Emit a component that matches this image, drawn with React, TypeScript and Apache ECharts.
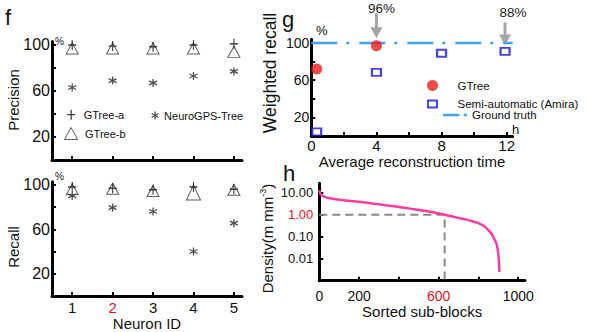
import React, { useEffect, useRef } from "react";
import * as echarts from "echarts";

// ---------- data ----------
const neuronIds = [1, 2, 3, 4, 5];
const precisionGTreeA = [100, 99, 98.5, 100, 101];
const precisionGTreeB = [97, 97, 97, 97, 94];
const precisionNeuroGPS = [63, 69, 67, 73, 77];
const recallGTreeA = [98, 97, 95.5, 98, 96];
const recallGTreeB = [96, 96.5, 94.5, 93, 95.5];
const recallNeuroGPS = [90, 79.5, 76, 40, 65.5];

const timeGTree = [0.33, 4];
const weightedRecallGTree = [72, 97];
const timeAmira = [0.33, 4, 8, 11.9];
const weightedRecallAmira = [4.5, 68.5, 89, 91];
const groundTruth = 100;
const arrowLabels = ["96%", "88%"];

const sortedBlocks = [0, 3, 8, 15, 26, 40, 60, 100, 150, 200, 250, 300, 350, 400, 450, 500, 550, 600, 630, 660, 700, 740, 780, 800, 830, 850, 865, 877, 886, 893, 898, 902, 904, 905];
const densityValues = [13, 10, 8.2, 7.2, 6.6, 6.0, 5.5, 4.8, 4.3, 3.9, 3.4, 3.0, 2.6, 2.25, 1.95, 1.65, 1.4, 1.15, 1.0, 0.87, 0.72, 0.6, 0.47, 0.42, 0.3, 0.2, 0.14, 0.085, 0.06, 0.04, 0.022, 0.0093, 0.005, 0.0025];
const thresholdDensity = 1;
const thresholdBlock = 630;

const fTickValues = [20, 40, 60, 80, 100];
const fLabelValues = [20, 60, 100];
const gXTicks = [2, 4, 6, 8, 10, 12];
const gXLabels = [0, 4, 8, 12];
const hXTicks = [200, 400, 600, 800, 1000];
const hXLabels = [0, 200, 600, 1000];

// ---------- styles ----------
const FONT = "Liberation Sans, Arial, sans-serif";
const PLUS = "path://M4,0L4,10M0,5L8,5";
const STAR = "path://M4,0L4,8M0.54,2L7.46,6M0.54,6L7.46,2";
const TRI_ICON = "path://M6,0L12,11L0,11Z";
const RECT_ICON = "path://M0,0L9,0L9,7L0,7Z";
const DASHDOT_ICON = "path://M0,0L15,0L15,2.5L0,2.5ZM19,0L22,0L22,2.5L19,2.5Z";

const axisLine = { show: true, onZero: false, lineStyle: { color: "#000", width: 3 } };
const tick = (vals: number[]) => ({ show: true, inside: true, length: 4, customValues: vals, lineStyle: { color: "#000", width: 2 } });

const zip = (xs: number[], ys: number[]) => xs.map((x, i) => [x, ys[i]]);

export default function App() {
  const ref = useRef<HTMLDivElement>(null);
  useEffect(() => {
    const chart = echarts.init(ref.current!, null, { renderer: "svg" });
    const triStyle = { color: "transparent", borderColor: "#333", borderWidth: 1 };
    const plusStyle = { color: "transparent", borderColor: "#111", borderWidth: 1.3 };
    const starStyle = { color: "transparent", borderColor: "#222", borderWidth: 1.3 };
    const labelStyle = (size: number) => ({ fontSize: size, fontFamily: FONT, color: "#111" });

    const fSeries = (grid: number, a: number[], b: number[], c: number[]) => [
      {
        type: "scatter", name: "GTree-b", xAxisIndex: grid, yAxisIndex: grid,
        symbol: "triangle", symbolSize: [12, 11], itemStyle: triStyle,
        data: zip(neuronIds, b).map((d, i) => (grid === 1 && i === 3 ? { value: d, symbolSize: [14, 15] } : d)),
      },
      { type: "scatter", name: "GTree-a", xAxisIndex: grid, yAxisIndex: grid, symbol: PLUS, symbolSize: [8, 10], itemStyle: plusStyle, data: zip(neuronIds, a) },
      { type: "scatter", name: "NeuroGPS-Tree", xAxisIndex: grid, yAxisIndex: grid, symbol: STAR, symbolSize: 8, itemStyle: starStyle, data: zip(neuronIds, c) },
    ];

    const option: any = {
      animation: false,
      backgroundColor: "#fff",
      textStyle: { fontFamily: FONT },
      grid: [
        { left: 52, top: 41.5, width: 190, height: 118.5 },
        { left: 52, top: 181.7, width: 190, height: 114.3 },
        { left: 311.3, top: 39.3, width: 201.4, height: 96.7 },
        { left: 319.3, top: 183.3, width: 205.7, height: 97.4 },
      ],
      xAxis: [
        { gridIndex: 0, type: "value", min: 0.5, max: 5.2, axisLine, axisTick: tick(neuronIds), axisLabel: { show: false }, splitLine: { show: false } },
        {
          gridIndex: 1, type: "value", min: 0.5, max: 5.2, axisLine, axisTick: tick(neuronIds), splitLine: { show: false },
          axisLabel: { customValues: neuronIds, margin: 4, ...labelStyle(15), formatter: (v: number) => (v === 2 ? "{r|2}" : String(v)), rich: { r: { color: "#e8141c", fontSize: 15, fontFamily: FONT } } },
          name: "Neuron ID", nameLocation: "middle", nameGap: 18, nameTextStyle: labelStyle(15),
        },
        {
          gridIndex: 2, type: "value", min: 0, max: 12.37, axisLine, axisTick: tick(gXTicks), splitLine: { show: false },
          axisLabel: { customValues: gXLabels, margin: 2, ...labelStyle(15) },
          name: "Average reconstruction time", nameLocation: "middle", nameGap: 17, nameTextStyle: labelStyle(15),
        },
        {
          gridIndex: 3, type: "value", min: 0, max: 1034, axisLine, axisTick: tick(hXTicks), splitLine: { show: false },
          axisLabel: { customValues: hXLabels, margin: 8, ...labelStyle(14), formatter: (v: number) => (v === 600 ? "{r|600}" : String(v)), rich: { r: { color: "#e8141c", fontSize: 14, fontFamily: FONT } } },
          name: "Sorted sub-blocks", nameLocation: "middle", nameGap: 23, nameTextStyle: labelStyle(15),
        },
      ],
      yAxis: [
        { gridIndex: 0, type: "value", min: 0, max: 103, axisLine, axisTick: tick(fTickValues), splitLine: { show: false }, axisLabel: { customValues: fLabelValues, margin: 2, ...labelStyle(16) } },
        { gridIndex: 1, type: "value", min: 0, max: 102.8, axisLine, axisTick: tick(fTickValues), splitLine: { show: false }, axisLabel: { customValues: fLabelValues, margin: 2, ...labelStyle(16) } },
        { gridIndex: 2, type: "value", min: 0, max: 104, axisLine, axisTick: tick(fTickValues), splitLine: { show: false }, axisLabel: { customValues: fLabelValues, margin: 2, ...labelStyle(14) } },
        {
          gridIndex: 3, type: "log", logBase: 10, min: 0.001, max: 27, axisLine,
          axisTick: { show: true, inside: true, length: 4, lineStyle: { color: "#000", width: 2 } },
          splitLine: { show: false },
          axisLabel: {
            margin: 6, showMaxLabel: false, ...labelStyle(13),
            formatter: (v: number) => {
              const lg = Math.log10(v);
              const r = Math.round(lg);
              if (Math.abs(lg - r) > 0.01 || r <= -3 || r > 1) return "";
              if (r === 0) return "{r|1.00}";
              return Math.pow(10, r).toFixed(2);
            },
            rich: { r: { color: "#e8141c", fontSize: 13, fontFamily: FONT } },
          },
        },
      ],
      legend: [
        { data: ["GTree-a"], left: 66.5, top: 109, padding: 0, itemWidth: 15, itemHeight: 10, itemStyle: { borderWidth: 1.3 }, textStyle: labelStyle(11) },
        { data: ["NeuroGPS-Tree"], left: 151, top: 110, padding: 0, itemWidth: 8, itemHeight: 8, itemStyle: { borderWidth: 1.3 }, textStyle: labelStyle(11) },
        { data: [{ name: "GTree-b", icon: TRI_ICON }], left: 64, top: 127, padding: 0, itemWidth: 18, itemHeight: 12, itemStyle: { borderWidth: 1 }, textStyle: labelStyle(11) },
        { data: ["GTree"], left: 427, top: 79.5, padding: 0, itemWidth: 40, itemHeight: 11, itemStyle: { borderWidth: 0 }, textStyle: labelStyle(11.5) },
        { data: [{ name: "Semi-automatic (Amira)", icon: RECT_ICON }], left: 427, top: 98, padding: 0, itemWidth: 40, itemHeight: 7, itemStyle: { borderWidth: 2 }, textStyle: labelStyle(11.5) },
        { data: [{ name: "Ground truth", icon: DASHDOT_ICON }], left: 443, top: 109, padding: 0, itemWidth: 24, itemHeight: 10, itemStyle: { borderWidth: 0 }, textStyle: labelStyle(11.5) },
      ],
      series: [
        ...fSeries(0, precisionGTreeA, precisionGTreeB, precisionNeuroGPS),
        ...fSeries(1, recallGTreeA, recallGTreeB, recallNeuroGPS),
        {
          type: "line", name: "Ground truth", xAxisIndex: 2, yAxisIndex: 2, symbol: "none", z: 1,
          lineStyle: { color: "#3da2f2", width: 2.5, type: [26, 9, 3, 10] }, itemStyle: { color: "#3da2f2" },
          data: [[0, groundTruth], [12.37, groundTruth]],
        },
        { type: "scatter", name: "GTree", xAxisIndex: 2, yAxisIndex: 2, symbol: "circle", symbolSize: 11, itemStyle: { color: "#ee1a1a" }, z: 3, data: zip(timeGTree, weightedRecallGTree) },
        { type: "scatter", name: "Semi-automatic (Amira)", xAxisIndex: 2, yAxisIndex: 2, symbol: "rect", symbolSize: [9, 7], itemStyle: { color: "#fff", borderColor: "#1515e0", borderWidth: 2 }, z: 3, data: zip(timeAmira, weightedRecallAmira) },
        {
          type: "line", name: "Density", xAxisIndex: 3, yAxisIndex: 3, symbol: "none", smooth: 0.3, z: 3,
          lineStyle: { color: "#ff3aa0", width: 2.5 }, data: zip(sortedBlocks, densityValues),
        },
        {
          type: "line", name: "Threshold", xAxisIndex: 3, yAxisIndex: 3, symbol: "none", z: 2,
          lineStyle: { color: "#8a8a8a", width: 2, type: [8, 5] },
          data: [[0, thresholdDensity], [thresholdBlock, thresholdDensity], [thresholdBlock, 0.001]],
        },
      ],
    };
    chart.setOption(option);

    const pA = chart.convertToPixel({ seriesIndex: 7 } as any, [timeGTree[1], weightedRecallGTree[1]]) as number[];
    const pB = chart.convertToPixel({ seriesIndex: 8 } as any, [timeAmira[3], weightedRecallAmira[3]]) as number[];
    const gray = "#a5a5a5";
    const arrow = (x: number, tip: number, len: number, label: string, dx: number, dy: number) => [
      { type: "line", shape: { x1: x, y1: tip - len, x2: x, y2: tip - 9 }, style: { stroke: gray, lineWidth: 3 } },
      { type: "polygon", shape: { points: [[x - 6, tip - 11], [x + 6, tip - 11], [x, tip]] }, style: { fill: gray } },
      { type: "text", x: x + dx, y: tip - len + dy, style: { text: label, fontSize: 13.5, fontFamily: FONT, fill: "#222", align: "center", verticalAlign: "middle" } },
    ];
    const txt = (text: string, x: number, y: number, size: number, extra: any = {}) => ({
      type: "text", x, y, ...extra,
      style: { text, fontSize: size, fontFamily: FONT, fill: "#111", align: extra.rotation ? "center" : "left", verticalAlign: "middle", ...(extra.style || {}) },
    });
    const rot = Math.PI / 2;
    chart.setOption({
      graphic: [
        txt("f", 5, 17, 22),
        txt("g", 282, 19, 22),
        txt("h", 283, 173, 22),
        txt("%", 55, 41, 10),
        txt("%", 55, 176, 10),
        txt("%", 316, 30.5, 13),
        txt("h", 512, 129, 13),
        txt("Precision", 13, 100, 15, { rotation: rot }),
        txt("Recall", 13, 247, 15, { rotation: rot }),
        txt("Weighted recall", 270, 73, 17.5, { rotation: rot }),
        {
          type: "text", x: 267, y: 238.5, rotation: rot,
          style: {
            text: "Density(m mm{s|-3})", fontSize: 15, fontFamily: FONT, fill: "#111", align: "center", verticalAlign: "middle",
            rich: { s: { fontSize: 9, fontFamily: FONT, fill: "#111", verticalAlign: "top", padding: [0, 0, 8, 0] } },
          },
        },
        ...arrow(pA[0], pA[1] - 7.5, 25, arrowLabels[0], 5, -4.5),
        ...arrow(pB[0], pB[1] - 6, 23, arrowLabels[1], 8, -9.5),
      ],
    });
    return () => chart.dispose();
  }, []);
  return <div ref={ref} style={{ position: "absolute", left: 0, top: 0, width: 589, height: 332 }} />;
}
